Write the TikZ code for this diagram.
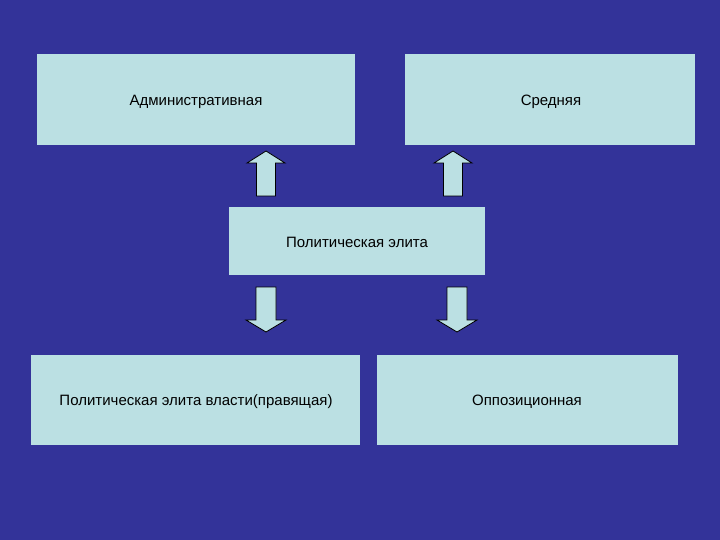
\documentclass[tikz,border=0pt]{standalone}
\usepackage{fontspec}
\setmainfont{Liberation Sans}
\begin{document}
\begin{tikzpicture}[x=1pt,y=-1pt,
  box/.style={fill=boxc,draw=none},
  lbl/.style={font=\fontsize{15}{18}\selectfont,text=black},
  barrow/.style={draw=black,line width=0.8pt,fill=boxc,line join=miter}]
\definecolor{bg}{HTML}{333399}
\definecolor{boxc}{HTML}{BBE0E3}
\fill[bg] (0,0) rectangle (720,540);
\useasboundingbox (0,0) rectangle (720,540);
\fill[box] (37,54) rectangle (355,145);
\node[lbl] (adm) at (196,102) {Административная};
\fill[box] (405,54) rectangle (695,145);
\node[lbl] (sred) at (551,102) {Средняя};
\fill[box] (229,207) rectangle (485,275);
\node[lbl] (pol) at (357,242) {Политическая элита};
\fill[box] (31,355) rectangle (360,445);
\node[lbl] (vl) at (196,402) {Политическая элита власти(правящая)};
\fill[box] (377,355) rectangle (678,445);
\node[lbl] (opp) at (527,402) {Оппозиционная};
% up arrows
\foreach \c in {266,453}{
 \draw[barrow] (\c-9.5,196) -- (\c-9.5,163) -- (\c-19,163) -- (\c,151) -- (\c+19,163) -- (\c+9.5,163) -- (\c+9.5,196) -- cycle;}
% down arrows
\foreach \c in {266,457}{
 \draw[barrow] (\c-10,287) -- (\c-10,320) -- (\c-20,320) -- (\c,332) -- (\c+20,320) -- (\c+10,320) -- (\c+10,287) -- cycle;}
\end{tikzpicture}
\end{document}
